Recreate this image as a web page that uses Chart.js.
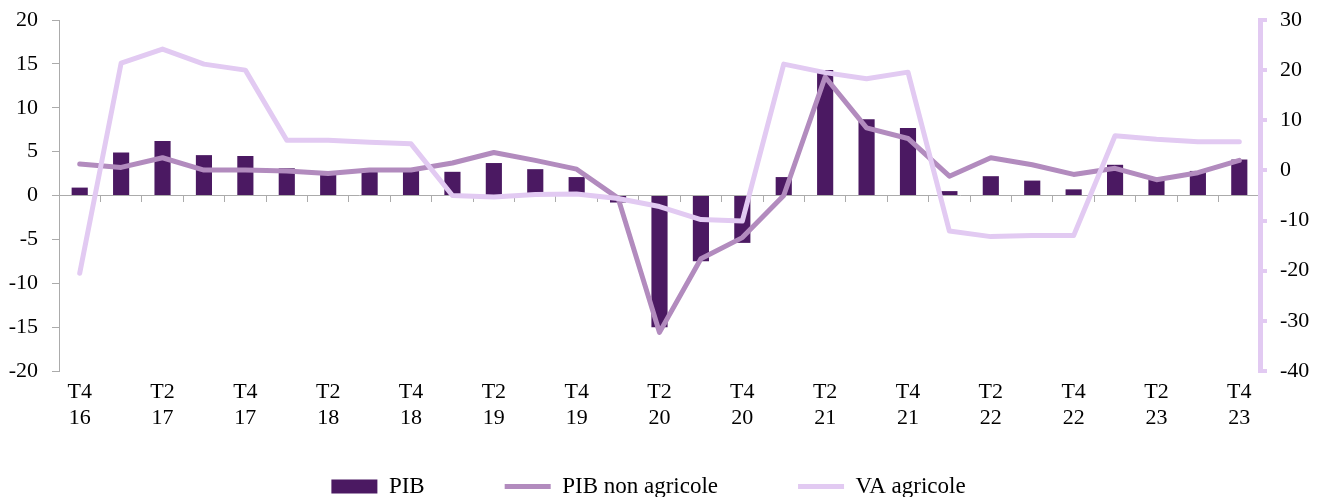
<!DOCTYPE html>
<html>
<head>
<meta charset="utf-8">
<script src="https://cdn.jsdelivr.net/npm/chart.js@4.4.1/dist/chart.umd.min.js"></script>
<style>
  html, body { margin: 0; padding: 0; background: #ffffff; }
  #wrap { width: 1325px; height: 497px; position: relative; }
</style>
</head>
<body>
<div id="wrap"><canvas id="c"></canvas></div>
<script>
// Quarters (categories)
const quarters = [
  "T4 16",
  "T1 17", "T2 17", "T3 17", "T4 17",
  "T1 18", "T2 18", "T3 18", "T4 18",
  "T1 19", "T2 19", "T3 19", "T4 19",
  "T1 20", "T2 20", "T3 20", "T4 20",
  "T1 21", "T2 21", "T3 21", "T4 21",
  "T1 22", "T2 22", "T3 22", "T4 22",
  "T1 23", "T2 23", "T3 23", "T4 23"
];

// Series values
const pib = [0.9, 4.9, 6.2, 4.6, 4.5, 3.1, 2.7, 3.0, 2.9, 2.7, 3.7, 3.0, 2.1, -0.8, -15.0, -7.5, -5.4, 2.1, 14.3, 8.7, 7.7, 0.5, 2.2, 1.7, 0.7, 3.5, 2.1, 2.8, 4.1];
const pibNonAgricole = [3.6, 3.2, 4.3, 2.9, 2.9, 2.8, 2.5, 2.9, 2.9, 3.7, 4.9, 4.0, 3.0, -0.3, -15.6, -7.2, -4.8, 0.0, 13.5, 7.7, 6.5, 2.2, 4.3, 3.5, 2.4, 3.1, 1.8, 2.6, 4.0];
const vaAgricole = [-20.5, 21.4, 24.2, 21.2, 20.0, 6.0, 6.0, 5.6, 5.3, -5.0, -5.3, -4.8, -4.7, -5.6, -7.2, -9.8, -10.1, 21.2, 19.5, 18.3, 19.6, -12.1, -13.2, -13.0, -13.0, 6.9, 6.2, 5.7, 5.7];

// Series names
const seriesNames = ["PIB", "PIB non agricole", "VA agricole"];

// Axis tick settings
const leftTicks = { min: -20, max: 20, step: 5 };
const rightTicks = { min: -40, max: 30, step: 10 };
// Only every second quarter is labelled, on two lines
const tickLabels = quarters.map((q, i) => (i % 2 === 0 ? q.split(" ") : ""));

const GRAY = "#ababab";
const BAR = "#4b1962";
const PNA = "#b28bbe";
const VA = "#e2caf2";
const FONT = "'Liberation Serif', 'Times New Roman', serif";

Chart.defaults.font.family = FONT;
Chart.defaults.font.size = 22;
Chart.defaults.color = "#000000";

// small layout tweak: centre the legend row like the original
const legendShift = {
  id: "legendShift",
  afterLayout(chart) {
    if (chart.legend) { chart.legend.right -= 28; }
  }
};

new Chart(document.getElementById("c"), {
  type: "bar",
  plugins: [legendShift],
  data: {
    labels: quarters,
    datasets: [
      {
        type: "bar",
        label: seriesNames[0],
        data: pib,
        backgroundColor: BAR,
        borderWidth: 0,
        barPercentage: 0.39,
        categoryPercentage: 1.0,
        xAxisID: "x",
        yAxisID: "y",
        pointStyle: "rect",
        order: 3
      },
      {
        type: "line",
        label: seriesNames[1],
        data: pibNonAgricole,
        borderColor: PNA,
        backgroundColor: PNA,
        borderWidth: 5,
        borderCapStyle: "round",
        borderJoinStyle: "round",
        tension: 0,
        fill: false,
        pointRadius: 0,
        pointHoverRadius: 0,
        pointStyle: "line",
        xAxisID: "x",
        yAxisID: "y",
        order: 2
      },
      {
        type: "line",
        label: seriesNames[2],
        data: vaAgricole,
        borderColor: VA,
        backgroundColor: VA,
        borderWidth: 5,
        borderCapStyle: "round",
        borderJoinStyle: "round",
        tension: 0,
        fill: false,
        pointRadius: 0,
        pointHoverRadius: 0,
        pointStyle: "line",
        xAxisID: "x",
        yAxisID: "y1",
        order: 1
      }
    ]
  },
  options: {
    responsive: true,
    maintainAspectRatio: false,
    animation: false,
    devicePixelRatio: 1,
    layout: { padding: { top: 20, left: 0, right: 0, bottom: 0 } },
    plugins: {
      tooltip: { enabled: false },
      legend: {
        position: "bottom",
        maxHeight: 102,
        labels: {
          usePointStyle: true,
          pointStyleWidth: 46,
          boxHeight: 14,
          padding: 80,
          color: "#000000",
          font: { size: 23, family: FONT },
          sort: (a, b) => a.datasetIndex - b.datasetIndex
        }
      }
    },
    scales: {
      x: {
        type: "category",
        position: { y: 0 },
        offset: true,
        grid: {
          offset: true,
          drawOnChartArea: false,
          drawTicks: true,
          tickLength: 6,
          color: GRAY,
          lineWidth: 1
        },
        border: { display: true, color: GRAY, width: 1 },
        ticks: { display: false }
      },
      x2: {
        type: "category",
        position: { y: leftTicks.min },
        offset: true,
        grid: { display: false, drawTicks: false, offset: true },
        border: { display: false },
        ticks: {
          autoSkip: false,
          maxRotation: 0,
          minRotation: 0,
          padding: 8,
          color: "#000000",
          font: { size: 22, family: FONT, lineHeight: 1.18 },
          callback: (value, index) => tickLabels[index]
        }
      },
      spacer: {
        type: "category",
        position: "bottom",
        display: true,
        grid: { display: false, drawTicks: false },
        border: { display: false },
        ticks: { display: false },
        afterFit: (s) => { s.height = 24; }
      },
      y: {
        type: "linear",
        position: "left",
        min: leftTicks.min,
        max: leftTicks.max,
        ticks: { stepSize: leftTicks.step, padding: 14, color: "#000000", font: { size: 22, family: FONT, lineHeight: 0.5 } },
        grid: { drawOnChartArea: false, drawTicks: true, tickLength: 7, color: GRAY, lineWidth: 1 },
        border: { display: true, color: GRAY, width: 1 },
        afterFit: (s) => { s.width = 59; }
      },
      y1: {
        type: "linear",
        position: "right",
        min: rightTicks.min,
        max: rightTicks.max,
        ticks: { stepSize: rightTicks.step, padding: 13, color: "#000000", font: { size: 22, family: FONT, lineHeight: 0.5 } },
        grid: { drawOnChartArea: false, drawTicks: true, tickLength: 7, color: VA, lineWidth: 4 },
        border: { display: true, color: VA, width: 5 },
        afterFit: (s) => { s.width = 65; }
      }
    }
  }
});
</script>
</body>
</html>
